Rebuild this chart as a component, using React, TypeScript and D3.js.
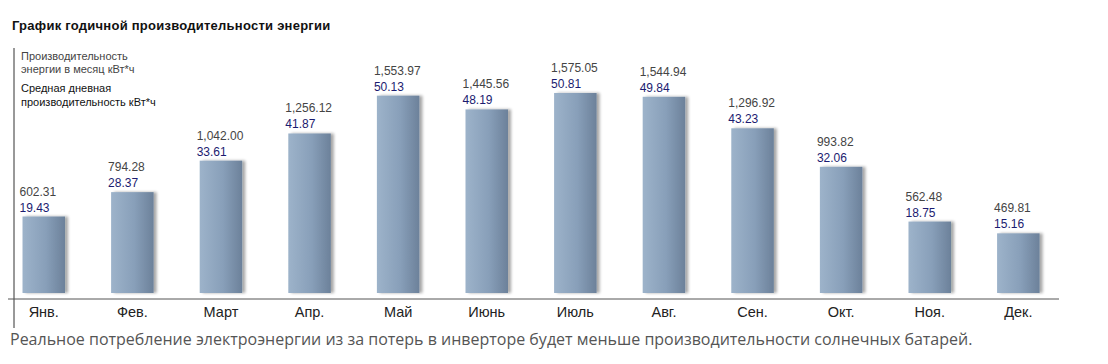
import React from "react";
import * as d3 from "d3";

const months = ["Янв.", "Фев.", "Март", "Апр.", "Май", "Июнь", "Июль", "Авг.", "Сен.", "Окт.", "Ноя.", "Дек."];
const monthly = [602.31, 794.28, 1042.0, 1256.12, 1553.97, 1445.56, 1575.05, 1544.94, 1296.92, 993.82, 562.48, 469.81];
const daily = [19.43, 28.37, 33.61, 41.87, 50.13, 48.19, 50.81, 49.84, 43.23, 32.06, 18.75, 15.16];

const title = "График годичной производительности энергии";
const legendMonthly = ["Производительность", "энергии в месяц кВт*ч"];
const legendDaily = ["Средная дневная", "производительность кВт*ч"];
const footer = "Реальное потребление электроэнергии из за потерь в инверторе будет меньше производительности солнечных батарей.";

const W = 1108;
const H = 364;
const baseY = 293;

const App = () => {
  const x = d3.scaleBand<string>().domain(months).range([22.5, 1039.6]).paddingInner(0.52).paddingOuter(0);
  const y = d3.scaleLinear().domain([0, 1600]).range([baseY, baseY - 1600 * 0.127]);
  const fmtMonthly = d3.format(",.2f");
  const fmtDaily = d3.format(".2f");

  return (
    <svg width={W} height={H} style={{ position: "absolute", left: 0, top: 0, background: "#fff" }}>
      <defs>
        <linearGradient id="barFill" x1="0" x2="1" y1="0" y2="0">
          <stop offset="0%" stopColor="#9db3ca" />
          <stop offset="55%" stopColor="#889fb9" />
          <stop offset="100%" stopColor="#6c819a" />
        </linearGradient>
        <filter id="barShadow" x="-20%" y="-5%" width="150%" height="110%">
          <feGaussianBlur in="SourceAlpha" stdDeviation="1.5" />
          <feOffset dx="2.5" dy="0" result="off" />
          <feComponentTransfer>
            <feFuncA type="linear" slope="0.35" />
          </feComponentTransfer>
          <feMerge>
            <feMergeNode />
            <feMergeNode in="SourceGraphic" />
          </feMerge>
        </filter>
      </defs>

      <text
        x={12}
        y={30}
        fontFamily="Liberation Sans, Arial, sans-serif"
        fontWeight="bold"
        fontSize={13}
        letterSpacing={0.25}
        fill="#111"
      >
        {title}
      </text>

      <line x1={14} x2={14} y1={48} y2={328} stroke="#333" strokeWidth={1} />
      <line x1={8} x2={1059} y1={299} y2={299} stroke="#555" strokeWidth={1} />

      <g fontFamily="Liberation Sans, Arial, sans-serif" fontSize={11}>
        {legendMonthly.map((t, i) => (
          <text key={"m" + i} x={21} y={60 + i * 13} fill="#444">
            {t}
          </text>
        ))}
        {legendDaily.map((t, i) => (
          <text key={"d" + i} x={21} y={92 + i * 14} fill="#111">
            {t}
          </text>
        ))}
      </g>

      {months.map((m, i) => {
        const bx = x(m) as number;
        const top = y(monthly[i]);
        return (
          <g key={m}>
            <rect x={bx} y={top} width={x.bandwidth()} height={baseY - top} fill="url(#barFill)" filter="url(#barShadow)" />
            <text x={bx - 3} y={top - 21} fontFamily="Liberation Sans, Arial, sans-serif" fontSize={12} fill="#444">
              {fmtMonthly(monthly[i])}
            </text>
            <text x={bx - 3} y={top - 5} fontFamily="Liberation Sans, Arial, sans-serif" fontSize={12} fill="#1b1b70">
              {fmtDaily(daily[i])}
            </text>
            <text
              x={bx + x.bandwidth() / 2}
              y={317}
              textAnchor="middle"
              fontFamily="Liberation Sans, Arial, sans-serif"
              fontSize={14.5}
              fill="#222"
            >
              {m}
            </text>
          </g>
        );
      })}

      <text x={10} y={345} fontFamily="Open Sans, sans-serif" fontSize={16} fill="#555">
        {footer}
      </text>
    </svg>
  );
};

export default App;
